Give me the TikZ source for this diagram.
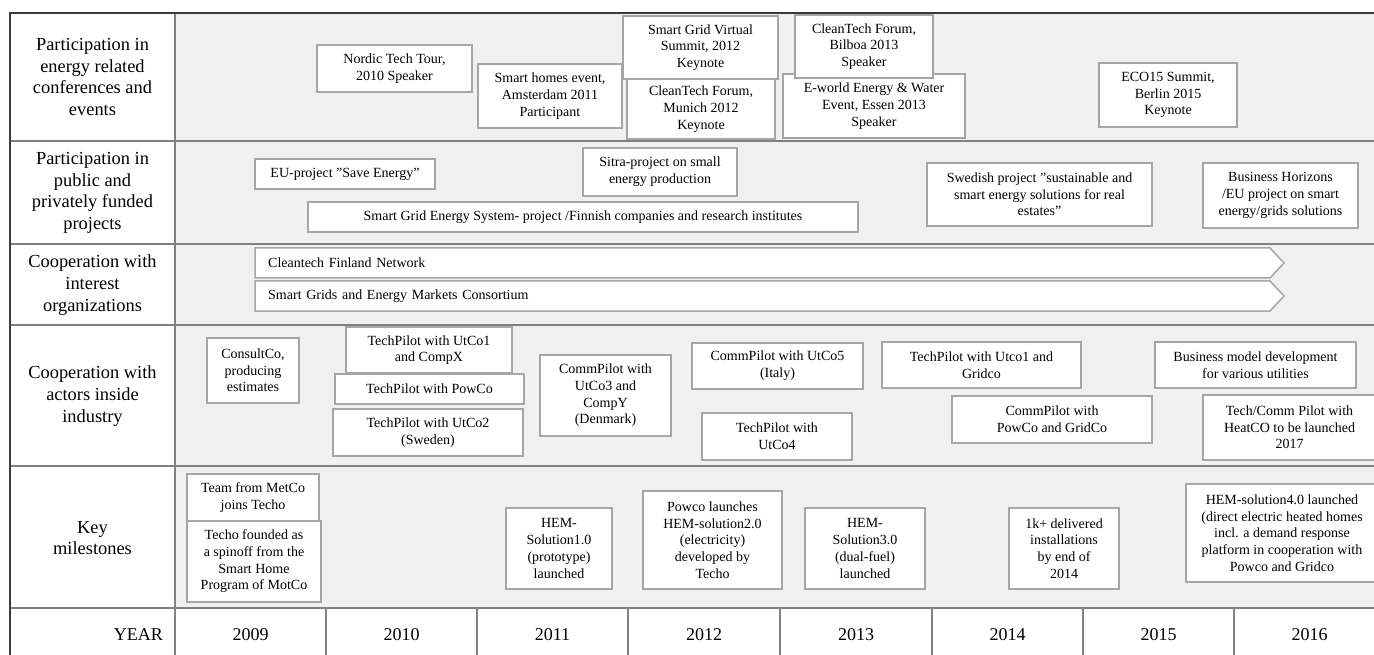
\documentclass[tikz,border=0pt]{standalone}
\usepackage{fontspec}
\setmainfont{Liberation Serif}
\usepackage{tikz}
\usepackage{xcolor}
\usetikzlibrary{calc}
\definecolor{ink}   {HTML}{3A3A3A}
\definecolor{rule}  {HTML}{808080}
\definecolor{edge}  {HTML}{A6A6A6}
\definecolor{panel} {HTML}{F0F0F0}
\tikzset{
  box/.style      ={draw=edge, fill=white, line width=1.5pt,
                    align=center, inner sep=2pt,
                    font=\fontsize{14}{16.7}\selectfont},
  band/.style     ={minimum height=30pt, text width=989pt, inner xsep=13pt,
                    inner ysep=0pt, align=left,
                    font=\fontsize{14}{16.7}\selectfont},
  bandline/.style ={draw=edge, fill=white, line width=1.5pt},
  rowlabel/.style ={align=center, font=\fontsize{18.4}{21.7}\selectfont},
  yearlabel/.style={font=\fontsize{18}{21}\selectfont},
  rowrule/.style  ={draw=rule, line width=2.5pt},
  frameline/.style={draw=ink, line width=2.5pt},
}

\begin{document}
\begin{tikzpicture}[x=1pt,y=-1pt]
  \useasboundingbox (0,0) rectangle (1374,655);

  % table
  \fill[panel] (175,13) rectangle (1385,608);
  \foreach \y in {141,244,325,466,608}
    \draw[rowrule] (10,\y) -- (1385,\y);
  \draw[rowrule] (175,13) -- (175,662);
  \foreach \x in {326,477,628,780,932,1083,1234}
    \draw[rowrule] (\x,608) -- (\x,662);
  \draw[frameline] (1385,13) -- (10,13) -- (10,662);

  % row labels
  \node[rowlabel] (conf) at (92.5,77)  {Participation in\\energy related\\conferences and\\events};
  \node[rowlabel] (proj) at (92.5,193) {Participation in\\public and\\privately funded\\projects};
  \node[rowlabel] (orgs) at (92.5,285) {Cooperation with\\interest\\organizations};
  \node[rowlabel] (inds) at (92.5,396) {Cooperation with\\actors inside\\industry};
  \node[rowlabel] (mile) at (92.5,538) {Key\\milestones};
  \node[yearlabel,anchor=east,inner sep=0pt] (year) at (163,635) {YEAR};

  \foreach \x/\yr in {250.5/2009,401.5/2010,552.5/2011,704/2012,856/2013,1007.5/2014,1158.5/2015,1309.5/2016}
    \node[yearlabel] (y\yr) at (\x,635) {\yr};

  % conferences and events
  \node[box,minimum width=155pt,minimum height=47pt] (nordic) at (394.5,68.5) {Nordic Tech Tour,\\2010 Speaker};
  \node[box,minimum width=144pt,minimum height=64pt] (amst) at (550,96) {Smart homes event,\\Amsterdam 2011\\Participant};
  \node[box,minimum width=148pt,minimum height=60pt] (munich) at (701,109) {CleanTech Forum,\\Munich 2012\\Keynote};
  \node[box,minimum width=155pt,minimum height=63pt] (summit) at (700.5,47.5) {Smart Grid Virtual\\Summit, 2012\\Keynote};
  \node[box,minimum width=182pt,minimum height=64pt] (eworld) at (874,106) {E-world Energy \& Water\\Event, Essen 2013\\Speaker};
  \node[box,minimum width=138pt,minimum height=63pt] (bilboa) at (864,46.5) {CleanTech Forum,\\Bilboa 2013\\Speaker};
  \node[box,minimum width=138pt,minimum height=64pt] (eco) at (1168,95) {ECO15 Summit,\\Berlin 2015\\Keynote};

  % funded projects
  \node[box,minimum width=180pt,minimum height=30pt] (save) at (345,174) {EU-project ”Save Energy”};
  \node[box,minimum width=550pt,minimum height=30pt] (sges) at (583,217) {Smart Grid Energy System- project /Finnish companies and research institutes};
  \node[box,minimum width=154pt,minimum height=48pt] (sitra) at (660,172) {Sitra-project on small\\energy production};
  \node[box,minimum width=225pt,minimum height=63pt] (swed) at (1039.5,194.5) {Swedish project ”sustainable and\\smart energy solutions for real\\estates”};
  \node[box,minimum width=155pt,minimum height=65pt] (bhor) at (1280.5,195.5) {Business Horizons\\/EU project on smart\\energy/grids solutions};

  % interest organizations
  \draw[bandline] (255,248) -- (1270,248) -- (1284,263) -- (1270,278) -- (255,278) -- cycle;
  \node[band,anchor=west] (cfn) at (255,263) {Cleantech Finland Network};
  \draw[bandline] (255,281) -- (1270,281) -- (1284,296) -- (1270,311) -- (255,311) -- cycle;
  \node[band,anchor=west] (sgem) at (255,296) {Smart Grids and Energy Markets Consortium};

  % actors inside industry
  \node[box,minimum width=92pt,minimum height=65pt] (consult) at (253,370.5) {ConsultCo,\\producing\\estimates};
  \node[box,minimum width=166pt,minimum height=46pt] (tp1) at (429,350) {TechPilot with UtCo1\\and CompX};
  \node[box,minimum width=189pt,minimum height=30pt] (tp2) at (429.5,389) {TechPilot with PowCo};
  \node[box,minimum width=190pt,minimum height=47pt] (tp3) at (428,432.5) {TechPilot with UtCo2\\(Sweden)};
  \node[box,minimum width=131pt,minimum height=81pt] (cp1) at (605.5,395.5) {CommPilot with\\UtCo3 and\\CompY\\(Denmark)};
  \node[box,minimum width=171pt,minimum height=46pt] (cp2) at (777.5,366) {CommPilot with UtCo5\\(Italy)};
  \node[box,minimum width=150pt,minimum height=47pt] (tp4) at (777,436.5) {TechPilot with\\UtCo4};
  \node[box,minimum width=199pt,minimum height=46pt] (tp5) at (981.5,365) {TechPilot with Utco1 and\\Gridco};
  \node[box,minimum width=200pt,minimum height=47pt] (cp3) at (1052,419.5) {CommPilot with\\PowCo and GridCo};
  \node[box,minimum width=201pt,minimum height=46pt] (bmd) at (1255.5,365) {Business model development\\for various utilities};
  \node[box,minimum width=173pt,minimum height=65pt] (tcp) at (1289.5,427.5) {Tech/Comm Pilot with\\HeatCO to be launched\\2017};

  % key milestones
  \node[box,minimum width=132pt,minimum height=47pt] (metco) at (253,497.5) {Team from MetCo\\joins Techo};
  \node[box,minimum width=134pt,minimum height=81pt] (found) at (254,561.5) {Techo founded as\\a spinoff from the\\Smart Home\\Program of MotCo};
  \node[box,minimum width=106pt,minimum height=81pt] (hem1) at (559,548.5) {HEM-\\Solution1.0\\(prototype)\\launched};
  \node[box,minimum width=139pt,minimum height=98pt] (hem2) at (712.5,540) {Powco launches\\HEM-solution2.0\\(electricity)\\developed by\\Techo};
  \node[box,minimum width=120pt,minimum height=81pt] (hem3) at (865,548.5) {HEM-\\Solution3.0\\(dual-fuel)\\launched};
  \node[box,minimum width=110pt,minimum height=81pt] (inst) at (1064,548.5) {1k+ delivered\\installations\\by end of\\2014};
  \node[box,minimum width=192pt,minimum height=98pt] (hem4) at (1282,533) {HEM-solution4.0 launched\\(direct electric heated homes\\incl. a demand response\\platform in cooperation with\\Powco and Gridco};
\end{tikzpicture}
\end{document}
